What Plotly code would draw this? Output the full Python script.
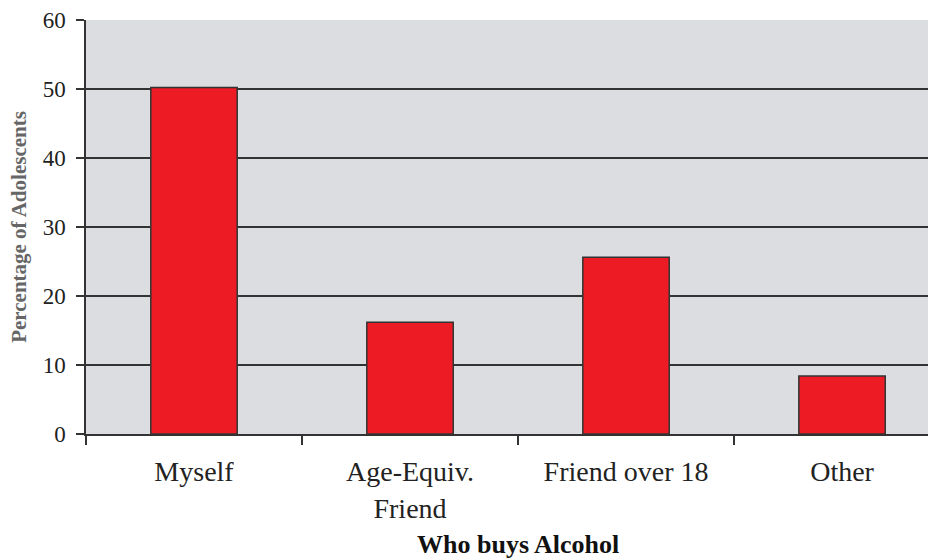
"""Bar chart: who buys alcohol for adolescents."""

import plotly.graph_objects as go

buyers = ["Myself", "Age-Equiv.<br>Friend", "Friend over 18", "Other"]
pct_adolescents = [50.2, 16.2, 25.6, 8.4]
y_ticks = [0, 10, 20, 30, 40, 50, 60]

SERIF = "Liberation Serif, Times New Roman, serif"
DARK = "#333333"

fig = go.Figure(
    go.Bar(
        x=buyers,
        y=pct_adolescents,
        width=0.4,
        marker=dict(color="#ed1c24", line=dict(color=DARK, width=1.5)),
        showlegend=False,
    )
)

# page body has an 8px margin, so the figure is shrunk by 8px to fit the window
fig.update_layout(
    width=928,
    height=552,
    margin=dict(l=78, r=0, t=12, b=126),
    paper_bgcolor="white",
    plot_bgcolor="#dcdde0",
    font=dict(family=SERIF, color="#222222"),
    bargap=0.6,
)

# the plot area runs off the right edge in the original, so the range is cut short
fig.update_xaxes(
    type="category",
    range=[-0.5, 3.435],
    automargin=False,
    showgrid=False,
    showline=True,
    linecolor=DARK,
    linewidth=1.5,
    ticks="outside",
    tickson="boundaries",
    ticklen=9,
    tickcolor=DARK,
    tickwidth=1.5,
    tickfont=dict(size=28, family=SERIF, color="#222222"),
    ticklabelstandoff=12,
)
fig.update_yaxes(
    range=[0, 60],
    tickvals=y_ticks,
    automargin=False,
    showgrid=True,
    gridcolor=DARK,
    gridwidth=1.5,
    zeroline=False,
    showline=True,
    linecolor=DARK,
    linewidth=1.5,
    ticks="outside",
    ticklen=8,
    tickcolor=DARK,
    tickwidth=1.5,
    tickfont=dict(size=23, family=SERIF, color="#222222"),
    ticklabelstandoff=6,
)

fig.add_annotation(
    text="<b>Who buys Alcohol</b>",
    xref="x", yref="paper", x=1.5, y=-0.267,
    xanchor="center", yanchor="middle", showarrow=False,
    font=dict(size=26, family=SERIF, color="#111111"),
)
fig.add_annotation(
    text="<b>Percentage of Adolescents</b>",
    xref="paper", yref="paper", x=-0.079, y=0.5,
    xanchor="center", yanchor="middle", textangle=-90, showarrow=False,
    font=dict(size=21, family=SERIF, color="#666666"),
)

fig.write_html("out.html")
